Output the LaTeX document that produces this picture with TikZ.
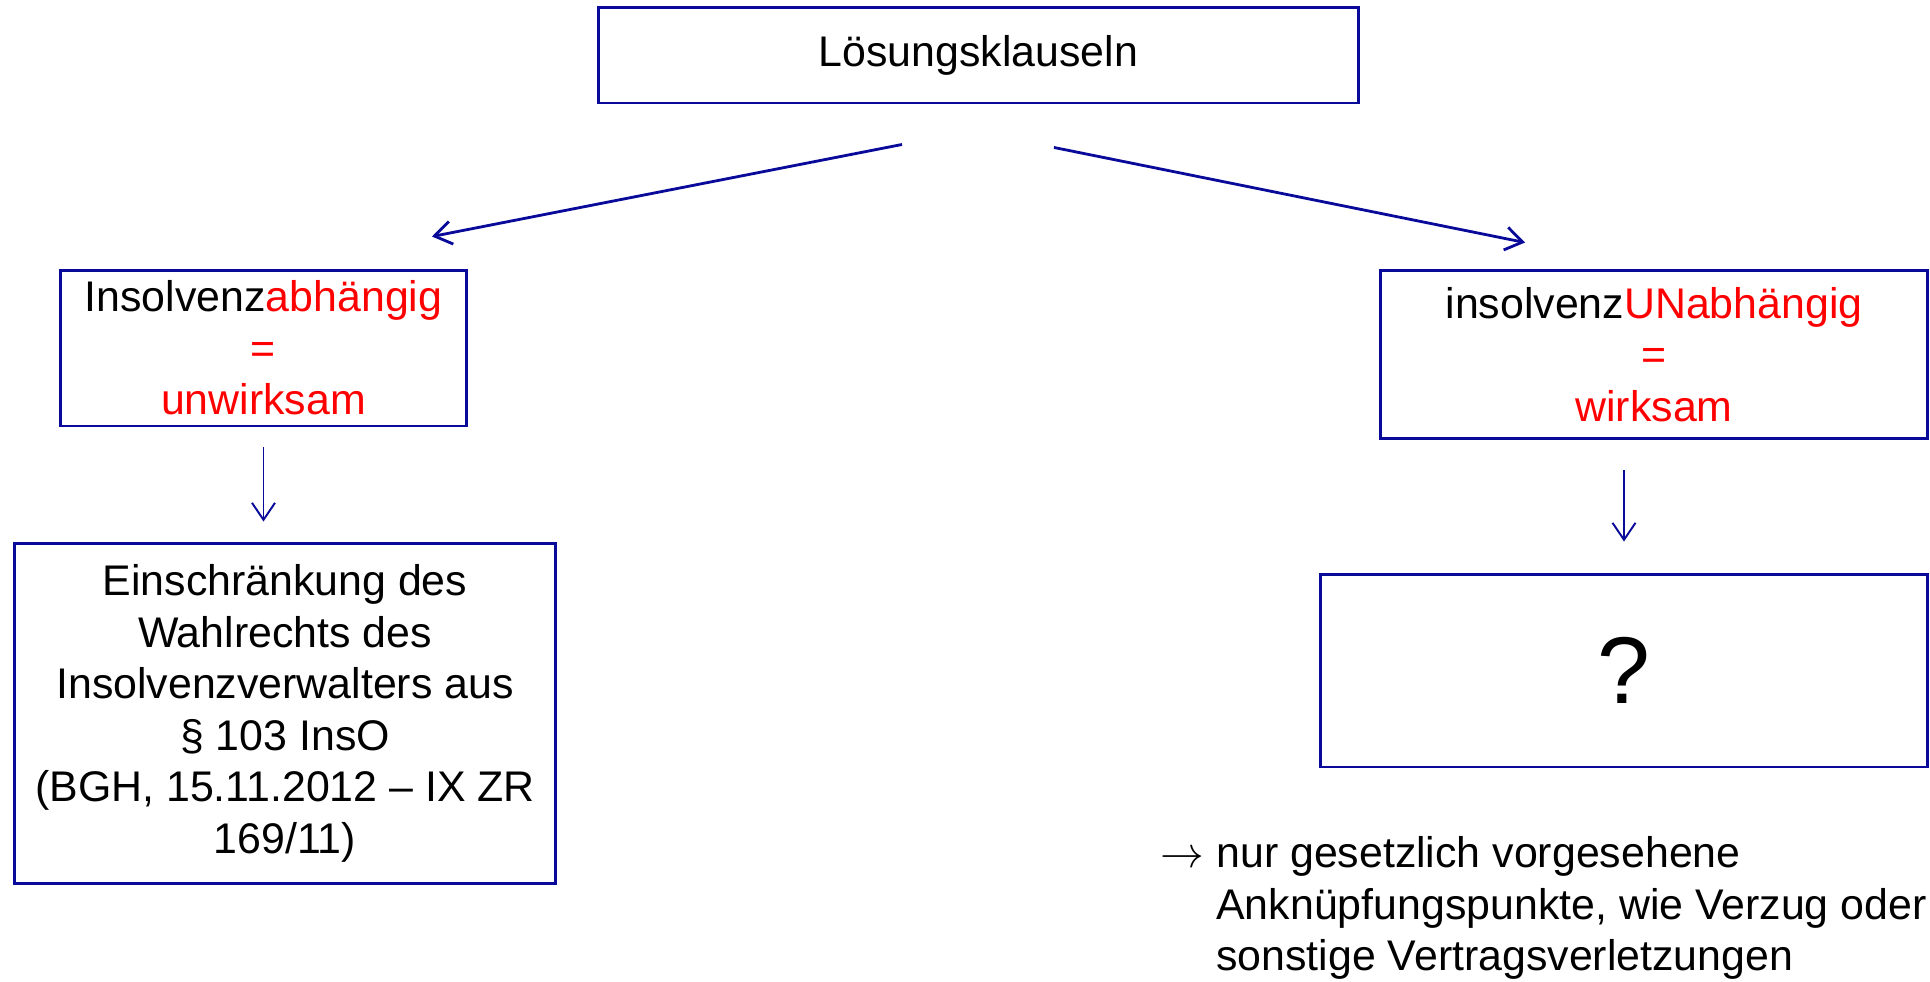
\documentclass[tikz,border=0pt]{standalone}
\usepackage{fontspec}
\setmainfont{Liberation Sans}
\usepackage{tikz}
\usetikzlibrary{arrows.meta}
\usepackage{xcolor}
\definecolor{FrameBlue}{HTML}{0A0A9A}
\definecolor{KlauselRed}{HTML}{FF0000}

\begin{document}
\begin{tikzpicture}[x=0.02cm,y=-0.02cm,>={Straight Barb[length=3.4mm,width=4.6mm]},
  box/.style={draw=FrameBlue,line width=1.7pt,align=center,inner sep=0pt,font=\fontsize{24.4}{29.3}\selectfont},
  link/.style={->,draw=FrameBlue,line width=1.6pt},
  droparrow/.style={->,draw=FrameBlue,line width=1.1pt}]
\useasboundingbox (0,0) rectangle (1930,981);
\node[box,minimum width=15.22cm,minimum height=1.92cm] (top) at (978.5,55) {Lösungsklauseln};
\node[box,minimum width=8.14cm,minimum height=3.12cm] (lb1) at (263.5,348)
  {Insolvenz\textcolor{KlauselRed}{abhängig}\\\textcolor{KlauselRed}{=}\\\textcolor{KlauselRed}{unwirksam}};
\node[box,minimum width=10.84cm,minimum height=6.82cm] (lb2) at (285,713.5)
  {Einschränkung des\\Wahlrechts des\\Insolvenzverwalters aus\\§ 103 InsO\\(BGH, 15.11.2012 – IX ZR\\169/11)};
\node[box,minimum width=10.96cm,minimum height=3.38cm] (rb1) at (1654,354.5)
  {insolvenz\textcolor{KlauselRed}{UNabhängig}\\\textcolor{KlauselRed}{=}\\\textcolor{KlauselRed}{wirksam}};
\node[box,minimum width=12.16cm,minimum height=3.86cm,font=\fontsize{54}{60}\selectfont] (rq) at (1624,670.5) {?};
\node[align=left,inner sep=0pt,anchor=west,font=\fontsize{24.4}{29.3}\selectfont] (note) at (1216,908)
  {\llap{$\rightarrow$\ }nur gesetzlich vorgesehene\\Anknüpfungspunkte, wie Verzug oder\\sonstige Vertragsverletzungen};
% arrows
\draw[link] ([xshift=-1.53cm,yshift=-0.8cm]top.south) -- ([xshift=3.37cm,yshift=0.64cm]lb1.north);
\draw[link] ([xshift=1.51cm,yshift=-0.86cm]top.south) -- ([xshift=-2.58cm,yshift=0.52cm]rb1.north);
\draw[droparrow,shorten <=4mm,shorten >=4mm] (lb1.south) -- (lb1.south |- lb2.north);
\draw[droparrow,shorten <=6mm,shorten >=6.2mm] (rb1.south -| rq.north) -- (rq.north);
\end{tikzpicture}
\end{document}
